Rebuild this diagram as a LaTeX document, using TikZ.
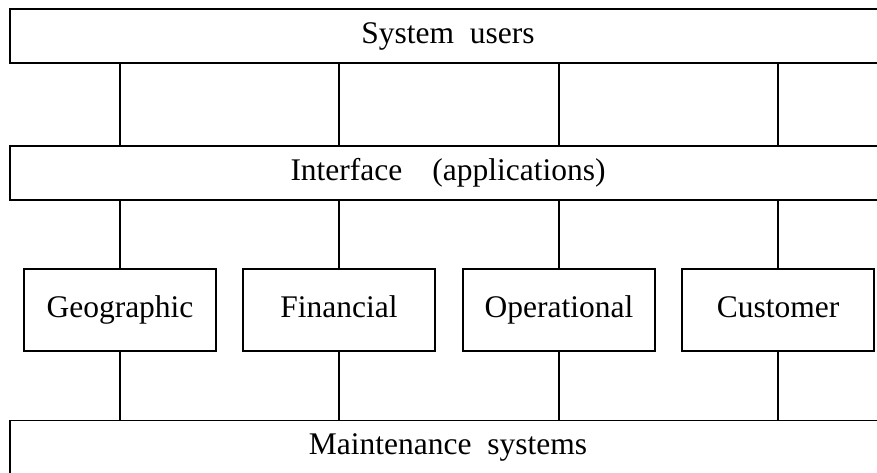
\documentclass[tikz,border=0pt]{standalone}
\usepackage{fontspec}
\setmainfont{Liberation Serif}
\begin{document}
\begin{tikzpicture}[x=1pt,y=-1pt,
  every node/.style={font=\fontsize{31.5}{36}\selectfont, text height=21.5pt, text depth=7pt, inner sep=0pt},
  wide/.style={draw, line width=1.1pt, minimum width=876pt, minimum height=54pt},
  unit/.style={draw, line width=1.1pt, minimum width=192pt, minimum height=82pt},
  link/.style={line width=1.1pt}]
\useasboundingbox (0,0) rectangle (877,472);
\clip (0,0) rectangle (877,472);
\node[wide] (users) at (448,36) {System\hspace{0.5em}users};
\node[wide] (iface) at (448,173) {Interface\hspace{0.95em}(applications)};
\node[unit] (geo) at (120,310) {Geographic};
\node[unit] (fin) at (339,310) {Financial};
\node[unit] (ops) at (559,310) {Operational};
\node[unit] (cus) at (778,310) {Customer};
\node[wide] (maint) at (448,447.5) {Maintenance\hspace{0.5em}systems};
\foreach \b in {geo,fin,ops,cus}{
  \draw[link] (users.south -| \b.north) -- (iface.north -| \b.north);
  \draw[link] (\b.north) -- (\b.north |- iface.south);
  \draw[link] (\b.south) -- (\b.south |- maint.north);
}
\end{tikzpicture}
\end{document}
